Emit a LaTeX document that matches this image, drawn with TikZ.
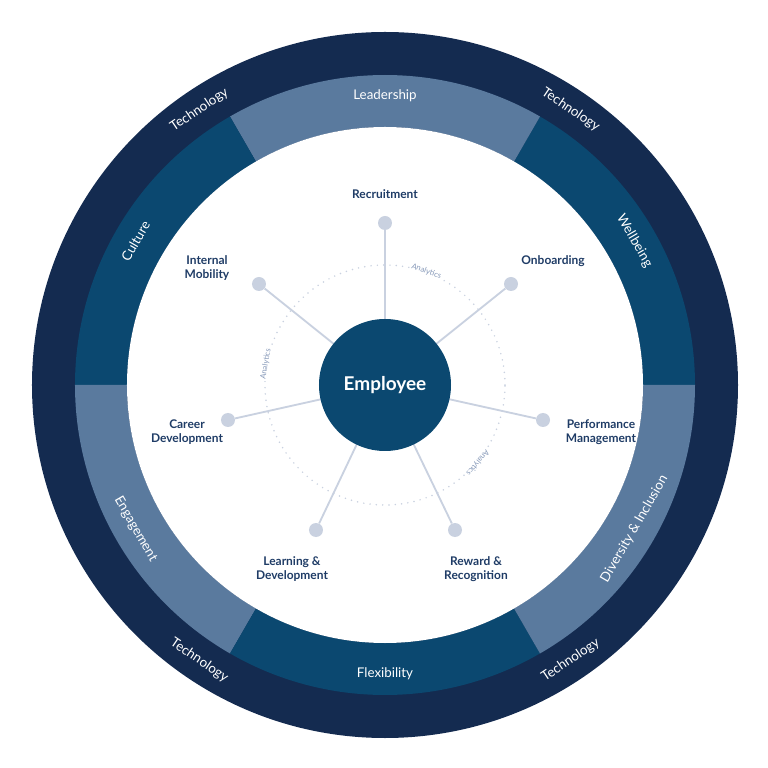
\documentclass[tikz,border=0pt]{standalone}
\usepackage{fontspec}
\setmainfont{Lato}
\usetikzlibrary{positioning}
\definecolor{navy}{HTML}{142B50}
\definecolor{teal}{HTML}{0B4870}
\definecolor{slate}{HTML}{5A7A9E}
\definecolor{dotc}{HTML}{C9D1E0}
\definecolor{labc}{HTML}{1F3C66}
\definecolor{anac}{HTML}{8598B8}
\newcommand{\segm}[3]{\fill[#3] (#1:310) arc (#1:#2:310) -- (#2:258) arc (#2:#1:258) -- cycle;}
\begin{document}
\begin{tikzpicture}[x=0.025cm,y=0.025cm,
  band/.style={text=white,font=\fontsize{9.5}{11}\selectfont},
  item/.style={text=labc,font=\fontsize{8.5}{10}\selectfont\bfseries,align=center},
  ana/.style={text=anac,font=\fontsize{5.5}{6}\selectfont}]
  \useasboundingbox (-385,-383) rectangle (383,385);

  % rings
  \fill[navy] (0,0) circle (353);
  \segm{0}{60}{teal}
  \segm{60}{120}{slate}
  \segm{120}{180}{teal}
  \segm{180}{240}{slate}
  \segm{240}{300}{teal}
  \segm{300}{360}{slate}
  \fill[white] (0,0) circle (258);

  % band labels
  \node[band,rotate=-60] (wb) at (30:288) {Wellbeing};
  \node[band] (ld) at (90:289) {Leadership};
  \node[band,rotate=60] (cu) at (150:288) {Culture};
  \node[band,rotate=-60] (en) at (210:288) {Engagement};
  \node[band] (fl) at (270:289) {Flexibility};
  \node[band,rotate=60] (di) at (330:288) {Diversity \& Inclusion};
  \node[band,rotate=-34] (t1) at (56:332) {Technology};
  \node[band,rotate=34] (t2) at (124:332) {Technology};
  \node[band,rotate=-34] (t3) at (236:332) {Technology};
  \node[band,rotate=34] (t4) at (304:332) {Technology};

  % analytics
  \draw[dotc,line width=1.2pt,dash pattern=on 0pt off 4.5pt,line cap=round] (0,0) circle (120);
  \node[ana,fill=white,inner sep=1pt,rotate=-20] (a1) at (70:121) {Analytics};
  \node[ana,fill=white,inner sep=1pt,rotate=80] (a2) at (170:121) {Analytics};
  \node[ana,fill=white,inner sep=1pt,rotate=-130] (a3) at (-40:121) {Analytics};

  % spokes
  \coordinate (c) at (0,0);
  \foreach \n/\p in {rec/{0,162},onb/{126,101},per/{158,-35},rew/{70,-145},
                     lea/{-69,-145},car/{-157,-35},int/{-126,101}}{
    \node[circle,fill=dotc,minimum size=14*0.025cm,inner sep=0] (\n) at (\p) {};
    \draw[dotc,line width=1.3pt] (c) -- (\n);
  }
  \node[circle,fill=teal,minimum size=132*0.025cm,text=white,
        font=\fontsize{13.5}{15}\selectfont\bfseries] (emp) at (c) {Employee};

  % items
  \node[item] at (0,191) {Recruitment};
  \node[item] at (168,124) {Onboarding};
  \node[item] at (216,-47) {Performance\\Management};
  \node[item] at (91,-184) {Reward \&\\Recognition};
  \node[item] at (-93,-184) {Learning \&\\Development};
  \node[item] at (-198,-47) {Career\\Development};
  \node[item] at (-178,117) {Internal\\Mobility};
\end{tikzpicture}
\end{document}
